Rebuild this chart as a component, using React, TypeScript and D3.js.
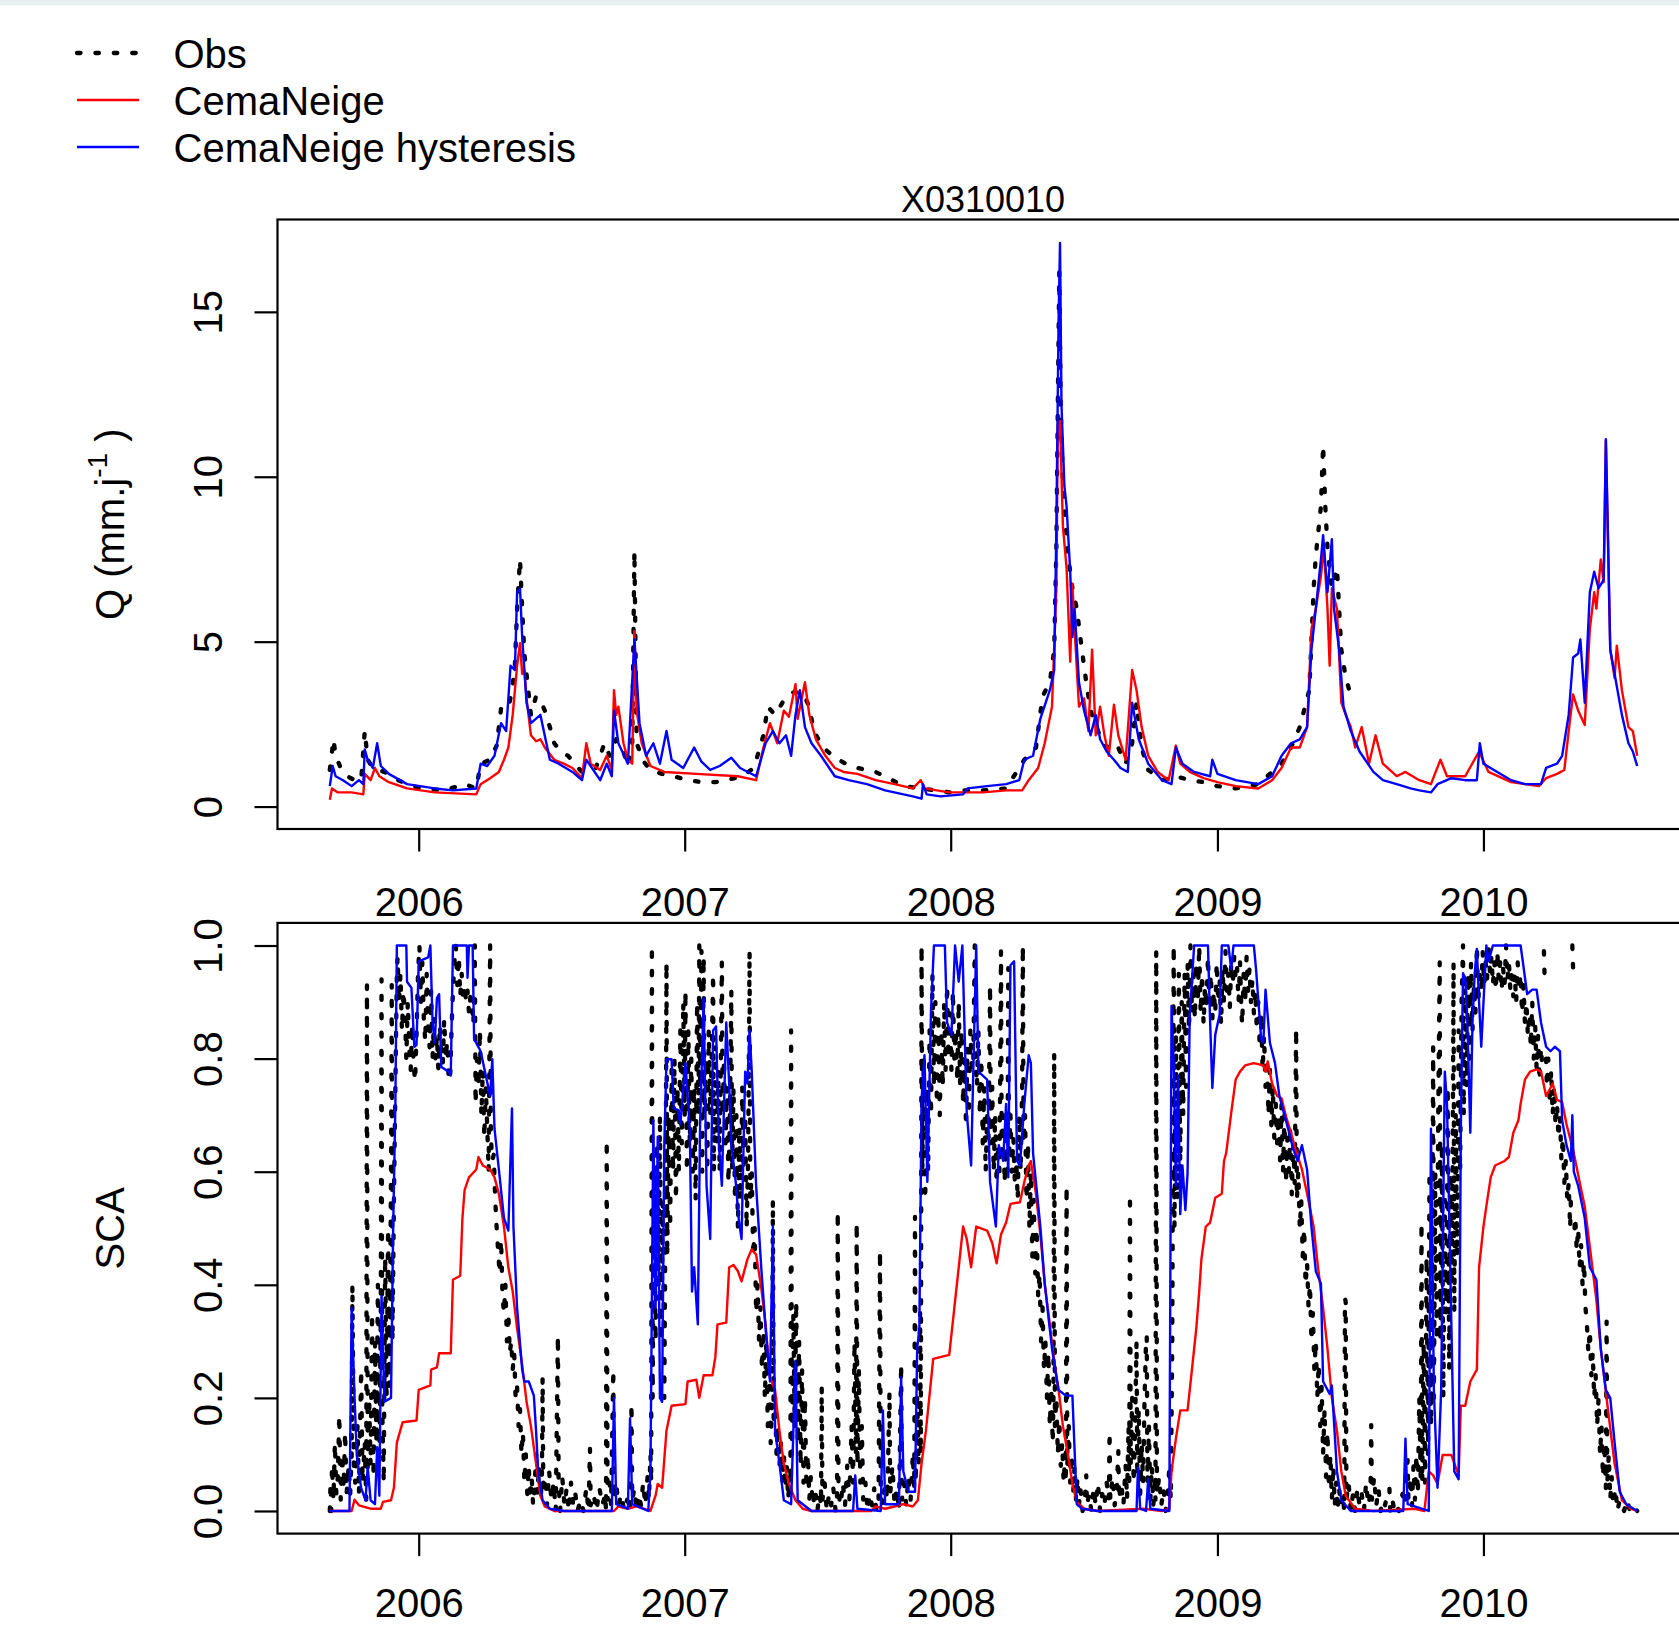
import React, { useEffect, useRef } from 'react';
import * as d3 from 'd3';

type Pt = [number, number | null];

// day offsets from 2005-09-01
const START = Date.UTC(2005, 8, 1);
const yearTicks = [2006, 2007, 2008, 2009, 2010];
const qTicks = [0, 5, 10, 15];
const scaTicks = [0, 0.2, 0.4, 0.6, 0.8, 1.0];
const stationName = 'X0310010';
const legendItems = [
  { label: 'Obs', color: '#000000', dotted: true },
  { label: 'CemaNeige', color: '#FF0000', dotted: false },
  { label: 'CemaNeige hysteresis', color: '#0000FF', dotted: false }
];

// discharge, mm/day
const qObs: Pt[] = [
  [0,1.11],[5,2.04],[8,1.54],[15,1.17],[24,0.92],[34,0.8],[43,0.8],[48,2.29],[52,1.42],[59,1.17],[68,1.11],[81,0.99],[94,0.8],[112,0.62],[131,0.55],[157,0.49],[185,0.68],[201,0.55],[207,1.3],[220,1.42],[229,1.85],[235,2.97],[245,2.97],[250,3.53],[254,4.27],[257,6.0],[261,7.49],[264,6.0],[267,4.64],[270,4.02],[276,2.78],[283,3.34],[289,3.22],[295,2.91],[302,2.41],[308,1.92],[317,1.67],[327,1.54],[336,1.3],[346,1.05],[365,1.17],[377,1.92],[384,1.54],[393,2.04],[403,1.67],[409,1.23],[415,1.92],[418,7.74],[421,1.92],[431,1.36],[440,1.11],[456,0.99],[472,0.92],[491,0.8],[510,0.74],[529,0.74],[544,0.8],[566,0.92],[582,1.17],[595,2.16],[601,3.03],[611,2.78],[623,3.22],[636,3.46],[649,3.46],[658,3.03],[664,2.29],[677,1.79],[693,1.48],[708,1.3],[724,1.17],[749,1.05],[772,0.8],[787,0.62],[812,0.55],[831,0.49],[850,0.43],[869,0.49],[896,0.49],[928,0.55],[953,1.42],[969,1.79],[978,3.34],[988,3.77],[994,4.76],[997,7.86],[999,12.2],[1001,16.2],[1003,12.0],[1006,9.72],[1013,7.61],[1019,6.62],[1025,6.0],[1032,4.76],[1038,3.77],[1044,2.91],[1054,2.29],[1066,1.79],[1079,1.92],[1092,1.3],[1101,1.92],[1107,3.15],[1114,1.79],[1123,1.11],[1142,0.8],[1161,0.92],[1180,0.8],[1199,0.74],[1218,0.62],[1243,0.55],[1274,0.68],[1306,1.3],[1319,1.79],[1331,2.41],[1344,3.53],[1347,5.01],[1350,6.62],[1353,7.61],[1360,9.1],[1363,10.96],[1366,9.1],[1369,7.86],[1375,6.62],[1382,7.24],[1385,6.0],[1388,4.76],[1394,3.9],[1399,3.53]
];

const qCema: Pt[] = [
  [0,0.21],[3,0.55],[11,0.43],[30,0.43],[46,0.37],[48,0.99],[56,0.8],[62,1.17],[68,0.92],[81,0.74],[106,0.55],[144,0.43],[201,0.37],[207,0.68],[220,0.86],[232,1.05],[239,1.42],[245,1.79],[251,2.78],[257,4.27],[261,4.95],[264,4.02],[267,4.14],[270,3.28],[276,2.16],[283,1.98],[289,2.04],[295,1.79],[308,1.42],[321,1.3],[333,1.17],[346,0.86],[352,1.92],[358,1.3],[371,1.11],[380,1.54],[387,1.11],[390,3.53],[393,2.78],[396,3.03],[403,1.92],[409,1.42],[415,1.3],[418,5.32],[421,2.91],[428,1.92],[440,1.23],[459,1.05],[503,0.99],[560,0.92],[585,0.8],[595,1.79],[604,2.53],[614,1.92],[623,2.91],[630,2.72],[639,3.71],[642,2.66],[652,3.77],[658,2.78],[667,2.04],[680,1.54],[693,1.17],[705,1.05],[724,0.99],[749,0.8],[775,0.68],[800,0.55],[811,0.8],[816,0.55],[850,0.43],[876,0.43],[896,0.43],[928,0.49],[950,0.49],[959,0.8],[972,1.17],[981,1.92],[991,3.03],[997,6.62],[999,11.58],[1002,11.7],[1006,8.48],[1011,7.24],[1016,4.39],[1019,6.75],[1022,5.38],[1028,3.03],[1035,3.28],[1041,2.29],[1046,4.76],[1051,2.16],[1057,3.03],[1063,2.16],[1069,1.54],[1076,3.09],[1082,2.16],[1092,1.42],[1101,4.14],[1107,3.53],[1114,2.41],[1123,1.54],[1136,1.05],[1151,0.8],[1161,1.85],[1167,1.3],[1180,1.05],[1199,0.86],[1218,0.74],[1243,0.62],[1274,0.55],[1293,0.8],[1306,1.17],[1319,1.79],[1331,1.79],[1341,2.41],[1347,5.38],[1353,6.0],[1360,6.99],[1364,7.86],[1369,6.0],[1372,4.27],[1375,6.62],[1382,6.0],[1388,3.15],[1394,2.78],[1401,2.41],[1407,1.79],[1416,2.41],[1426,1.3],[1435,2.16],[1445,1.3],[1464,0.92],[1476,1.05],[1495,0.8],[1511,0.68],[1524,1.42],[1533,0.92],[1546,0.92],[1558,0.92],[1577,1.67],[1590,1.05],[1621,0.74],[1640,0.68],[1659,0.62],[1669,0.86],[1684,0.99],[1694,1.11],[1700,2.29],[1706,3.4],[1713,2.91],[1722,2.47],[1729,5.38],[1735,6.5],[1738,6.0],[1744,7.49],[1748,6.8],[1751,11.1],[1754,7.86],[1757,4.76],[1763,3.9],[1766,4.88],[1773,3.53],[1782,2.41],[1788,2.29],[1794,1.54]
];

const qCemaHyst: Pt[] = [
  [0,0.62],[4,1.23],[8,0.92],[18,0.8],[30,0.62],[40,0.8],[46,0.68],[48,1.73],[52,1.42],[59,1.17],[65,1.92],[70,1.23],[81,0.99],[106,0.68],[144,0.55],[169,0.49],[201,0.55],[207,1.3],[216,1.23],[226,1.54],[235,2.53],[242,2.29],[248,4.27],[254,4.14],[257,6.5],[261,6.62],[264,5.14],[270,3.15],[276,2.53],[289,2.78],[302,1.42],[314,1.3],[333,1.05],[346,0.8],[352,1.42],[371,0.8],[380,1.3],[387,0.92],[390,2.91],[396,1.92],[409,1.3],[418,5.07],[425,2.53],[434,1.54],[444,1.92],[453,1.3],[462,2.29],[469,1.42],[485,1.17],[500,1.79],[510,1.36],[522,1.11],[535,1.23],[551,1.48],[563,1.17],[585,0.92],[598,1.92],[608,2.29],[617,1.92],[626,2.16],[633,1.54],[639,2.78],[645,3.53],[652,2.41],[661,1.92],[674,1.54],[693,0.92],[712,0.8],[737,0.68],[762,0.49],[800,0.31],[812,0.24],[814,0.68],[819,0.37],[838,0.31],[869,0.37],[875,0.55],[902,0.62],[928,0.68],[946,0.8],[953,1.42],[965,1.54],[975,2.66],[988,3.53],[994,4.14],[997,8.48],[1000,14.67],[1002,17.09],[1004,12.19],[1008,9.72],[1011,9.1],[1016,7.12],[1019,5.14],[1022,6.0],[1028,3.77],[1035,2.91],[1044,2.16],[1051,2.78],[1057,2.04],[1066,1.67],[1076,1.42],[1085,1.17],[1095,1.05],[1101,3.15],[1110,2.04],[1123,1.3],[1142,0.8],[1155,0.68],[1161,1.79],[1170,1.3],[1186,1.05],[1208,0.92],[1211,1.42],[1218,0.99],[1243,0.8],[1274,0.68],[1293,0.92],[1306,1.54],[1319,1.92],[1331,2.04],[1341,2.41],[1347,4.76],[1353,6.0],[1360,7.49],[1363,8.23],[1369,6.5],[1375,8.11],[1378,6.0],[1385,4.76],[1391,3.03],[1401,2.29],[1413,1.67],[1432,1.05],[1445,0.8],[1464,0.68],[1483,0.55],[1495,0.49],[1511,0.43],[1520,0.68],[1539,0.86],[1558,0.8],[1574,0.8],[1578,1.92],[1583,1.3],[1602,1.05],[1621,0.8],[1640,0.68],[1662,0.68],[1669,1.17],[1684,1.3],[1691,1.54],[1700,2.78],[1706,4.52],[1713,4.64],[1716,5.07],[1722,3.15],[1729,6.5],[1735,7.12],[1741,6.62],[1748,6.87],[1751,11.14],[1754,8.11],[1757,4.76],[1763,4.02],[1773,2.78],[1782,1.92],[1788,1.67],[1794,1.23]
];

// snow cover area fraction
const scaObs: Pt[] = [
  [0,0],[1,0.05],[2,0],[3,0.08],[5,0.02],[7,0.12],[9,0.03],[11,0.06],[13,0.17],[15,0.02],[17,0.1],[19,0.04],[21,0.14],[23,0.03],[26,0.08],[28,0.03],[30,0.1],[31,0.4],[33,0.08],[35,0.05],[38,0.15],[40,0.03],[43,0.25],[45,0.05],[48,0.12],[50,0.02],[51,0.93],[52,0.05],[54,0.2],[56,0.08],[58,0.35],[60,0.06],[62,0.3],[64,0.12],[66,0.4],[68,0.1],[70,0.35],[71,0.94],[72,0.18],[74,0.05],[76,0.45],[78,0.2],[80,0.5],[82,0.22],[84,0.6],[85,0.93],[86,0.3],[88,0.55],[90,0.75],[92,0.95],[93,0.98],[95,0.9],[97,0.95],[99,0.85],[101,0.92],[103,0.88],[105,0.8],[107,0.9],[109,0.82],[111,0.78],[113,0.86],[115,0.79],[117,0.76],[119,0.84],[121,0.95],[123,1],[125,0.9],[127,0.97],[129,0.87],[131,0.83],[133,0.95],[135,0.85],[137,0.82],[139,0.92],[141,0.8],[143,0.87],[145,0.8],[147,0.84],[149,0.78],[151,0.86],[153,0.82],[155,0.79],[157,0.87],[159,0.8],[161,0.83],[163,0.77],[165,0.76],[167,0.85],[169,0.92],[171,0.97],[173,1],[175,0.93],[177,0.98],[179,0.91],[181,0.95],[183,0.9],[185,0.93],[187,0.9],[189,0.92],[191,0.88],[193,0.91],[195,0.9],[197,0.86],[199,1],[200,0.72],[202,0.8],[204,0.75],[206,0.85],[208,0.7],[210,0.78],[212,0.66],[214,0.75],[216,0.68],[218,0.6],[220,1],[221,0.66],[223,0.62],[225,0.63],[227,0.55],[229,0.5],[231,0.46],[233,0.42],[235,0.48],[237,0.38],[239,0.35],[241,0.4],[243,0.3],[245,0.35],[247,0.28],[249,0.3],[251,0.25],[253,0.28],[255,0.2],[257,0.22],[259,0.15],[261,0.18],[263,0.1],[265,0.14],[267,0.05],[269,0.1],[271,0.03],[273,0.08],[275,0.02],[277,0.06],[279,0.01],
  [281,0.04],[283,0.1],[285,0.03],[287,0.08],[289,0.02],[291,0.05],[292,0.236],[293,0.03],[296,0.06],[298,0.01],[301,0.07],[304,0.02],[307,0.05],[310,0],[313,0.31],[314,0.05],[316,0],[319,0.06],[322,0.01],[325,0.04],[328,0],[331,0.05],[334,0.01],[337,0.03],[340,0],[344,0.02],[348,0],[352,0.04],[355,0],[357,0.11],[358,0.01],[362,0.03],[366,0],[370,0.04],[374,0.01],[378,0.03],[379,0],[380,0.656],[381,0.02],[384,0.05],[386,0.01],[389,0.25],[390,0.02],[393,0.05],[396,0.01],[400,0.03],[404,0],[408,0.02],[412,0],[414,0.19],[415,0.02],[418,0.04],[421,0],[424,0.03],[427,0.01],[430,0.05],[433,0.01],[436,0.06],[438,0.02],[440,0.1],[441,0.05],[442,1],
  [443,0.2],[445,0.6],[447,0.3],[449,0.65],[451,0.4],[453,0.7],[455,0.3],[457,0.55],[459,0.2],[461,0.6],[462,0.97],[463,0.45],[465,0.7],[467,0.5],[469,0.78],[471,0.6],[473,0.8],[475,0.55],[477,0.75],[479,0.6],[481,0.85],[483,0.65],[485,0.9],[487,0.7],[488,0.92],[490,0.6],[492,0.85],[494,0.65],[496,0.8],[498,0.6],[500,0.75],[502,0.55],[504,0.9],[506,0.7],[507,1],[508,0.75],[510,0.99],[511,0.6],[513,0.98],[514,0.7],[516,0.8],[518,0.6],[520,0.85],[522,0.7],[524,0.8],[526,0.95],[527,0.6],[529,0.82],[531,0.65],[533,0.78],[535,0.6],[537,0.85],[538,0.97],[539,0.7],[541,0.8],[543,0.65],[545,0.75],[547,0.58],[549,0.7],[551,0.92],[552,0.6],[554,0.75],[556,0.55],[558,0.7],[560,0.5],[562,0.68],[564,0.55],[566,0.75],[568,0.6],[570,0.7],[572,0.5],[574,0.62],[576,0.99],[577,0.55],[579,0.6],[581,0.45],[583,0.5],[585,0.35],[587,0.4],[589,0.3],[591,0.36],[593,0.25],[595,0.32],[597,0.2],[599,0.3],[601,0.15],[603,0.25],[605,0.12],[607,0.2],[608,0.55],[609,0.15],[611,0.2],[613,0.1],[615,0.15],[617,0.08],[619,0.12],[621,0.05],[623,0.1],[625,0.04],[627,0.08],[629,0.02],[631,0.06],[632,0.03],[633,0.85],
  [634,0.1],[636,0.35],[638,0.15],[640,0.37],[642,0.12],[644,0.3],[646,0.08],[648,0.25],[650,0.05],[652,0.2],[654,0.04],[656,0.1],[658,0.02],[660,0.06],[663,0.01],[666,0.04],[669,0],[672,0.03],[674,0.01],[675,0.22],[676,0.02],[679,0.05],[682,0],[685,0.03],[688,0.01],[691,0.04],[694,0],[696,0.02],[697,0.53],[698,0.03],[701,0.01],[704,0.05],[707,0.01],[710,0.08],[713,0.02],[716,0.15],[718,0.05],[720,0.3],[722,0.1],[723,0.51],[724,0.08],[726,0.25],[728,0.05],[730,0.15],[732,0.02],[735,0.05],[738,0],[741,0.03],[744,0.01],[747,0.04],[750,0],[753,0.02],[755,0.46],[756,0.03],[759,0.01],[762,0.05],[765,0.02],[768,0.21],[769,0.03],[772,0.08],[775,0.01],[778,0.04],[781,0],[784,0.26],[785,0.02],[788,0.05],[791,0.01],[794,0.06],[797,0.02],[800,0.1],[802,0.04],[803,0.52],[804,0.05],[806,0.2],[808,0.08],[810,0.35],[811,0.1],[812,1],
  [813,0.6],[815,0.8],[817,0.55],[819,0.75],[821,0.6],[823,0.85],[825,0.7],[827,0.95],[829,0.75],[831,0.9],[833,0.72],[835,0.88],[837,0.7],[839,0.85],[841,0.75],[843,0.9],[845,0.78],[847,0.93],[849,0.8],[851,0.88],[853,0.78],[855,0.92],[857,0.8],[859,0.85],[861,0.76],[863,0.9],[865,0.75],[867,0.85],[869,0.72],[871,0.8],[873,0.68],[875,0.82],[877,0.7],[879,0.85],[881,0.78],[883,0.8],[885,1],[886,0.8],[888,0.75],[890,0.85],[892,0.7],[894,0.8],[896,0.65],[898,0.75],[900,0.6],[902,0.7],[904,0.66],[906,0.93],[907,0.65],[909,0.75],[911,0.6],[913,0.7],[915,0.58],[917,0.65],[919,0.6],[921,0.99],[922,0.62],[924,0.7],[926,0.58],[928,0.66],[930,0.6],[931,0.96],[932,0.62],[934,0.7],[936,0.6],[938,0.66],[940,0.58],[942,0.62],[944,0.55],[946,0.7],[948,0.6],[950,0.75],[951,1],[952,0.65],[954,0.7],[956,0.55],[958,0.65],[960,0.5],[962,0.6],[964,0.45],[966,0.55],[968,0.42],[970,0.5],[972,0.38],[974,0.42],[976,0.3],[978,0.36],[980,0.25],[982,0.3],[984,0.2],[986,0.28],[988,0.15],[990,0.22],[992,0.12],[993,0.2],[994,0.81],[995,0.15],[997,0.2],[999,0.1],[1001,0.16],[1003,0.08],[1005,0.12],[1007,0.05],[1009,0.1],[1010,0.05],[1011,0.575],[1012,0.08],[1014,0.15],[1016,0.05],[1018,0.1],[1020,0.03],[1022,0.08],[1024,0.02],[1026,0.06],[1028,0.01],
  [1030,0.04],[1033,0],[1036,0.02],[1038,0.063],[1039,0.01],[1042,0.03],[1045,0],[1048,0.04],[1051,0.01],[1054,0.05],[1057,0],[1060,0.03],[1063,0.01],[1066,0.05],[1069,0.02],[1070,0.14],[1071,0.02],[1074,0.06],[1077,0.01],[1080,0.04],[1082,0.106],[1083,0.02],[1086,0.05],[1089,0.01],[1092,0.08],[1094,0.02],[1096,0.15],[1097,0.05],[1098,0.56],[1099,0.08],[1101,0.2],[1103,0.05],[1105,0.15],[1107,0.3],[1108,0.06],[1110,0.18],[1112,0.03],[1114,0.12],[1116,0.05],[1118,0.2],[1120,0.3],[1121,0.31],[1122,0.05],[1124,0.15],[1126,0.02],[1128,0.08],[1130,0.01],[1132,0.05],[1133,0.02],[1134,0.99],[1135,0.03],[1138,0.06],[1141,0.01],[1144,0.04],[1147,0],[1150,0.03],[1152,0.08],[1154,0.02],[1156,0.3],[1158,1],
  [1159,0.5],[1161,0.85],[1163,0.55],[1165,0.95],[1167,0.6],[1169,0.9],[1171,0.7],[1173,0.95],[1175,0.75],[1177,0.97],[1179,0.85],[1181,1],[1183,0.88],[1185,0.95],[1187,0.87],[1189,0.97],[1191,0.9],[1193,1],[1195,0.88],[1197,0.95],[1199,0.86],[1201,0.93],[1203,0.89],[1205,0.98],[1207,0.9],[1209,0.95],[1211,0.87],[1213,0.92],[1215,0.88],[1217,0.97],[1219,0.9],[1221,0.94],[1223,0.86],[1225,0.96],[1227,0.9],[1229,0.99],[1231,0.92],[1233,0.95],[1235,0.89],[1237,0.97],[1239,0.93],[1241,0.98],[1243,0.94],[1245,0.96],[1247,0.9],[1249,0.97],[1251,0.88],[1252,0.86],[1254,0.95],[1256,0.9],[1258,0.98],[1260,0.92],[1262,0.96],[1264,0.9],[1266,0.94],[1268,0.88],[1270,0.92],[1272,0.85],[1274,0.9],[1276,0.82],[1278,0.88],[1280,0.78],[1282,0.84],[1284,0.75],[1286,0.8],[1288,0.7],[1290,0.78],[1292,0.68],[1294,0.75],[1296,0.66],[1298,0.72],[1300,0.65],[1302,0.7],[1304,0.62],[1306,0.72],[1308,0.6],[1310,0.7],[1312,0.58],[1314,0.66],[1316,0.6],[1318,0.68],[1320,0.56],[1322,0.65],[1324,0.58],[1326,0.853],[1327,0.55],[1329,0.6],[1331,0.5],[1333,0.55],[1335,0.45],[1337,0.5],[1339,0.4],[1341,0.44],[1343,0.36],[1345,0.4],[1347,0.3],[1349,0.35],[1351,0.25],[1353,0.3],[1355,0.2],[1357,0.26],[1359,0.15],[1361,0.22],[1363,0.1],[1365,0.18],[1367,0.06],[1369,0.14],[1371,0.04],[1373,0.1],[1375,0.02],[1377,0.08],[1379,0.01],[1381,0.05],[1383,0],[1385,0.04],[1387,0.01],[1390,0.03],[1392,0],[1393,0.376],[1394,0.37],[1395,0.02],[1398,0.05],[1401,0],
  [1404,0.03],[1407,0],[1410,0.04],[1413,0.01],[1416,0.03],[1419,0],[1422,0.05],[1425,0.01],[1428,0.03],[1429,0.152],[1430,0.02],[1433,0.06],[1436,0.01],[1439,0.04],[1442,0],[1445,0.02],[1448,0.01],[1451,0.03],[1454,0.04],[1455,0],[1458,0.02],[1461,0],[1464,0.01],[1467,0],[1470,0.02],[1472,0.03],[1475,0.01],[1477,0.06],[1479,0.09],[1480,0.02],[1483,0.06],[1485,0.01],[1487,0.08],[1489,0.02],[1491,0.1],[1493,0.03],[1495,0.2],[1497,0.05],[1498,0.51],
  [1499,0.05],[1501,0.3],[1503,0.05],[1505,0.45],[1507,0.1],[1509,0.6],[1511,0.15],[1513,0.5],[1514,0.82],[1515,0.2],[1517,0.6],[1519,0.3],[1521,0.7],[1523,0.97],[1524,0.3],[1526,0.65],[1528,0.2],[1530,0.55],[1532,0.35],[1534,0.75],[1536,0.25],[1538,0.6],[1540,0.4],[1542,0.97],[1543,0.35],[1545,0.7],[1547,0.45],[1549,0.85],[1551,0.6],[1553,0.9],[1555,1],[1556,0.7],[1558,0.92],[1560,0.75],[1562,0.95],[1564,0.8],[1566,0.97],[1568,0.85],[1570,0.93],[1572,0.88],[1574,1],[1576,0.9],[1578,0.96],[1580,0.92],[1582,0.99],[1584,0.93],[1586,0.97],[1588,0.94],[1590,1],[1592,0.95],[1594,0.98],[1596,0.93],[1598,0.97],[1600,0.92],[1602,0.99],[1604,0.94],[1606,0.97],[1608,0.92],[1610,0.96],[1612,0.93],[1614,1],[1616,0.94],[1618,0.97],[1620,0.92],[1622,0.96],[1624,0.91],[1626,0.95],[1628,0.9],[1630,0.97],[1632,0.92],[1634,0.95],[1636,0.88],[1638,0.93],[1640,0.86],[1642,0.9],[1644,0.84],[1646,0.88],[1648,0.82],[1650,0.9],[1652,0.8],[1654,0.86],[1656,0.78],[1658,0.84],[1660,0.76],[1662,0.82],[1664,0.78],[1665,null],[1666,0.99],[1667,0.94],[1668,null],[1669,0.8],[1670,0.75],[1672,0.8],[1674,0.72],[1676,0.78],[1678,0.7],[1680,0.75],[1682,0.68],[1684,0.72],[1686,0.66],[1688,0.7],[1690,0.62],[1692,0.66],[1694,0.58],[1696,0.62],[1698,0.55],[1700,0.58],[1702,0.5],[1703,0.55],[1704,null],[1705,1],[1706,0.96],[1707,null],[1708,0.5],[1709,0.52],[1711,0.46],[1713,0.5],[1715,0.43],[1717,0.47],[1719,0.4],[1721,0.44],[1723,0.36],[1725,0.33],[1727,0.28],[1729,0.32],[1731,0.24],[1733,0.28],[1735,0.2],[1737,0.24],[1739,0.15],[1741,0.2],[1743,0.1],[1745,0.15],[1747,0.06],[1749,0.12],[1751,0.04],[1752,0.335],[1753,0.05],[1755,0.1],[1757,0.02],[1759,0.06],[1761,0.01],[1764,0.04],[1767,0],[1770,0.02],[1773,0.01],[1776,0],[1780,0.02],[1784,0],[1788,0.01],[1794,0]
];

const scaCema: Pt[] = [
  [0,0],[30,0],[34,0.02],[40,0.01],[56,0.004],[70,0.004],[73,0.016],[84,0.019],[88,0.041],[92,0.121],[100,0.157],[119,0.16],[122,0.214],[138,0.222],[139,0.25],[147,0.254],[150,0.279],[166,0.279],[169,0.409],[179,0.416],[182,0.518],[185,0.568],[191,0.59],[201,0.604],[204,0.626],[210,0.611],[220,0.604],[226,0.59],[232,0.561],[239,0.503],[245,0.431],[251,0.388],[257,0.323],[264,0.258],[270,0.193],[276,0.15],[283,0.084],[289,0.027],[295,0.008],[308,0],[390,0],[396,0.008],[409,0.004],[421,0.008],[440,0],[447,0.027],[450,0.048],[456,0.041],[462,0.142],[469,0.186],[488,0.189],[491,0.229],[503,0.232],[507,0.2],[513,0.24],[525,0.24],[529,0.272],[532,0.33],[544,0.333],[548,0.431],[554,0.435],[560,0.424],[565,0.406],[573,0.445],[579,0.463],[585,0.453],[592,0.395],[598,0.33],[604,0.236],[611,0.214],[617,0.142],[623,0.084],[630,0.048],[639,0.019],[649,0.004],[661,0],[743,0],[749,0.008],[762,0.004],[775,0.008],[787,0.012],[800,0.008],[807,0.019],[812,0.084],[818,0.142],[828,0.269],[850,0.276],[857,0.359],[863,0.431],[869,0.503],[874,0.481],[880,0.431],[887,0.503],[902,0.496],[909,0.474],[915,0.438],[921,0.489],[928,0.51],[934,0.543],[947,0.546],[953,0.582],[959,0.611],[962,0.619],[969,0.561],[975,0.489],[981,0.402],[988,0.33],[994,0.265],[1000,0.214],[1006,0.15],[1013,0.099],[1019,0.048],[1025,0.016],[1035,0.004],[1054,0],[1117,0.004],[1142,0],[1152,0.004],[1155,0.07],[1161,0.128],[1167,0.178],[1177,0.178],[1183,0.25],[1189,0.323],[1193,0.388],[1196,0.445],[1202,0.503],[1208,0.51],[1215,0.554],[1224,0.561],[1227,0.619],[1230,0.633],[1237,0.705],[1243,0.763],[1249,0.777],[1256,0.788],[1268,0.792],[1281,0.788],[1284,0.777],[1287,0.795],[1293,0.756],[1300,0.734],[1306,0.73],[1312,0.698],[1319,0.669],[1325,0.64],[1334,0.604],[1341,0.561],[1350,0.503],[1356,0.431],[1363,0.359],[1369,0.287],[1375,0.2],[1382,0.142],[1388,0.07],[1394,0.027],[1407,0.004],[1432,0],[1489,0.004],[1502,0],[1508,0.07],[1514,0.063],[1520,0.048],[1527,0.099],[1539,0.099],[1549,0.063],[1552,0.186],[1558,0.186],[1565,0.229],[1574,0.25],[1577,0.431],[1583,0.503],[1587,0.539],[1593,0.59],[1599,0.611],[1612,0.619],[1618,0.626],[1624,0.669],[1631,0.691],[1634,0.72],[1640,0.763],[1647,0.777],[1656,0.781],[1662,0.777],[1669,0.734],[1675,0.748],[1678,0.756],[1684,0.727],[1691,0.723],[1697,0.684],[1707,0.633],[1716,0.575],[1722,0.539],[1729,0.467],[1738,0.373],[1744,0.287],[1754,0.178],[1763,0.084],[1773,0.019],[1785,0.004],[1794,0]
];

const scaCemaHyst: Pt[] = [
  [0,0],[27,0],[30,0.359],[34,0.2],[37,0.099],[43,0.041],[49,0.019],[52,0.077],[56,0.019],[62,0.012],[65,0.113],[68,0.027],[71,0.38],[75,0.193],[84,0.2],[87,0.503],[90,0.72],[92,1],[105,1],[106,0.936],[112,0.925],[116,0.821],[119,0.824],[122,0.972],[135,0.979],[138,1],[141,0.864],[144,0.828],[147,0.907],[150,0.914],[153,0.785],[163,0.777],[166,0.77],[169,1],[188,1],[189,0.943],[191,1],[196,1],[198,0.835],[207,0.813],[220,0.734],[223,0.799],[226,0.676],[232,0.604],[239,0.518],[245,0.496],[250,0.712],[252,0.503],[257,0.359],[264,0.25],[267,0.229],[273,0.229],[280,0.204],[283,0.142],[286,0.07],[292,0.019],[302,0.004],[321,0],[387,0],[390,0.2],[393,0.012],[409,0.004],[412,0.164],[415,0.012],[437,0],[440,0.07],[444,0.691],[447,0.359],[450,0.662],[453,0.2],[456,0.193],[459,0.647],[462,0.799],[469,0.799],[472,0.712],[478,0.709],[481,0.684],[488,0.792],[494,0.676],[497,0.388],[500,0.431],[505,0.33],[508,0.676],[513,0.907],[517,0.575],[522,0.481],[526,0.85],[530,0.857],[534,0.647],[538,0.575],[544,0.864],[548,0.756],[551,0.647],[557,0.582],[561,0.518],[565,0.481],[570,0.777],[573,0.756],[576,0.85],[579,0.777],[585,0.575],[592,0.431],[598,0.323],[604,0.229],[608,0.503],[611,0.142],[617,0.084],[623,0.019],[633,0.012],[639,0.265],[642,0.019],[661,0],[718,0],[721,0.063],[724,0.004],[756,0],[759,0.178],[762,0.012],[781,0.012],[784,0.236],[787,0.07],[794,0.034],[803,0.034],[806,0.287],[809,0.323],[812,0.727],[816,0.806],[820,0.582],[825,0.886],[829,1],[844,1],[847,0.864],[853,0.842],[858,1],[863,0.936],[868,1],[874,0.705],[880,0.611],[887,1],[890,0.777],[902,0.763],[906,0.582],[914,0.503],[918,0.647],[924,0.619],[928,0.72],[931,0.59],[934,0.965],[939,0.972],[943,0.619],[947,0.611],[953,0.72],[959,0.806],[962,0.792],[965,0.633],[975,0.503],[981,0.402],[991,0.287],[1000,0.214],[1010,0.204],[1019,0.204],[1025,0.012],[1032,0.004],[1054,0],[1107,0],[1109,0.077],[1112,0.004],[1120,0],[1123,0.056],[1126,0.004],[1152,0],[1155,0.893],[1158,0.792],[1161,0.575],[1164,0.77],[1167,0.525],[1170,0.611],[1174,0.532],[1177,0.597],[1180,0.878],[1183,0.936],[1186,1],[1205,1],[1208,0.864],[1211,0.748],[1215,0.842],[1221,0.878],[1224,1],[1233,1],[1237,0.958],[1240,1],[1268,1],[1271,0.958],[1278,0.835],[1281,0.828],[1284,0.922],[1290,0.828],[1297,0.792],[1303,0.734],[1309,0.705],[1315,0.676],[1322,0.64],[1328,0.619],[1334,0.647],[1341,0.604],[1347,0.503],[1353,0.424],[1360,0.402],[1363,0.229],[1372,0.207],[1375,0.222],[1382,0.07],[1388,0.019],[1401,0],[1473,0],[1476,0.128],[1479,0.012],[1508,0],[1511,0.676],[1515,0.214],[1520,0.041],[1525,0.214],[1530,0.777],[1533,0.72],[1543,0.07],[1549,0.056],[1552,0.676],[1555,0.951],[1558,0.943],[1561,0.864],[1565,0.669],[1568,0.864],[1571,0.951],[1574,0.994],[1577,0.9],[1580,0.821],[1587,1],[1590,0.972],[1596,1],[1634,1],[1637,0.972],[1643,0.914],[1650,0.922],[1656,0.922],[1662,0.864],[1669,0.821],[1675,0.813],[1681,0.821],[1688,0.813],[1691,0.691],[1697,0.647],[1703,0.619],[1705,0.7],[1707,0.6],[1713,0.575],[1722,0.518],[1729,0.431],[1738,0.409],[1744,0.287],[1751,0.214],[1757,0.2],[1763,0.121],[1770,0.034],[1779,0.012],[1794,0]
];

const W = 1679;
const H = 1625;
const FONT = "'Liberation Sans', Arial, Helvetica, sans-serif";
const OBS_DASH = '3.5 14.9';

const App: React.FC = () => {
  const svgRef = useRef<SVGSVGElement>(null);

  useEffect(() => {
    if (!svgRef.current) return;
    const svg = d3.select(svgRef.current);
    svg.selectAll('*').remove();

    const toDate = (d: number) => new Date(START + d * 86400000);

    // top band of the page
    svg.append('rect').attr('x', 0).attr('y', 0).attr('width', W).attr('height', 5.5).attr('fill', '#e6eff2');

    // x scale, R style 4% padding
    const days = scaObs.map(p => p[0]);
    const [d0, d1] = d3.extent(days) as [number, number];
    const pad = (d1 - d0) * 0.04;
    const left = 277.5;
    const right = 1689.5;
    const x = d3.scaleUtc().domain([toDate(d0 - pad), toDate(d1 + pad)]).range([left, right]);
    const yearDates = yearTicks.map(y => new Date(Date.UTC(y, 0, 1)));

    const panels = [
      {
        top: 219.5, bottom: 829, domain: [-0.68, 17.8], ticks: qTicks, fmt: d3.format('d'), labelPad: 36,
        series: [
          { data: qObs, color: '#000', dotted: true },
          { data: qCema, color: '#FF0000', dotted: false },
          { data: qCemaHyst, color: '#0000FF', dotted: false }
        ]
      },
      {
        top: 922.9, bottom: 1533.6, domain: [-0.04, 1.04], ticks: scaTicks, fmt: d3.format('.1f'), labelPad: 33,
        series: [
          { data: scaObs, color: '#000', dotted: true },
          { data: scaCema, color: '#FF0000', dotted: false },
          { data: scaCemaHyst, color: '#0000FF', dotted: false }
        ]
      }
    ];

    panels.forEach(p => {
      const y = d3.scaleLinear().domain(p.domain).range([p.bottom, p.top]);

      const line = d3.line<Pt>()
        .defined(d => d[1] !== null)
        .x(d => x(toDate(d[0])))
        .y(d => y(d[1] as number));

      p.series.forEach(s => {
        svg.append('path')
          .datum(s.data)
          .attr('d', line)
          .attr('fill', 'none')
          .attr('stroke', s.color)
          .attr('stroke-width', s.dotted ? 4.3 : 2.4)
          .attr('stroke-linecap', s.dotted ? 'round' : 'butt')
          .attr('stroke-linejoin', 'round')
          .attr('stroke-dasharray', s.dotted ? OBS_DASH : null);
      });

      // box
      svg.append('rect')
        .attr('x', left).attr('y', p.top)
        .attr('width', right - left).attr('height', p.bottom - p.top)
        .attr('fill', 'none').attr('stroke', '#000').attr('stroke-width', 2.2);

      // x axis
      svg.append('g')
        .attr('transform', `translate(0,${p.bottom})`)
        .call(d3.axisBottom(x).tickValues(yearDates).tickSize(22.5).tickPadding(p.labelPad)
          .tickFormat(d => d3.utcFormat('%Y')(d as Date)))
        .call(g => g.select('.domain').remove())
        .call(g => g.selectAll('line').attr('stroke', '#000').attr('stroke-width', 2.2))
        .call(g => g.selectAll('text').attr('fill', '#000'))
        .attr('font-family', FONT).attr('font-size', 40);

      // y axis, labels parallel to the axis
      svg.append('g')
        .attr('transform', `translate(${left},0)`)
        .call(d3.axisLeft(y).tickValues(p.ticks).tickSize(23).tickFormat(d => p.fmt(d as number)))
        .call(g => g.select('.domain').remove())
        .call(g => g.selectAll('line').attr('stroke', '#000').attr('stroke-width', 2.2))
        .call(g => g.selectAll('text')
          .attr('fill', '#000')
          .attr('x', 0).attr('y', -56).attr('dy', 0)
          .attr('text-anchor', 'middle')
          .attr('transform', 'rotate(-90)'))
        .attr('font-family', FONT).attr('font-size', 40);
    });

    // y labels
    const mid1 = (219.5 + 829) / 2;
    const mid2 = (922.9 + 1533.6) / 2;
    const ql = svg.append('text')
      .attr('transform', `translate(124,${mid1}) rotate(-90)`)
      .attr('text-anchor', 'middle')
      .attr('font-family', FONT).attr('font-size', 40)
      .style('white-space', 'pre');
    ql.append('tspan').text('Q (mm.j');
    ql.append('tspan').attr('font-size', 28).attr('dy', -17).text('-1');
    ql.append('tspan').attr('dy', 17).text(' )');

    svg.append('text')
      .attr('transform', `translate(124,${mid2}) rotate(-90)`)
      .attr('text-anchor', 'middle')
      .attr('font-family', FONT).attr('font-size', 40)
      .text('SCA');

    // title
    svg.append('text')
      .attr('x', 983).attr('y', 212)
      .attr('text-anchor', 'middle')
      .attr('font-family', FONT).attr('font-size', 36)
      .text(stationName);

    // legend
    const legend = svg.append('g').attr('transform', 'translate(77,53)');
    legendItems.forEach((d, i) => {
      const row = legend.append('g').attr('transform', `translate(0,${i * 47})`);
      row.append('line')
        .attr('x1', 0).attr('x2', 62).attr('y1', 0).attr('y2', 0)
        .attr('stroke', d.color)
        .attr('stroke-width', d.dotted ? 4.3 : 2.4)
        .attr('stroke-linecap', d.dotted ? 'round' : 'butt')
        .attr('stroke-dasharray', d.dotted ? OBS_DASH : null);
      row.append('text')
        .attr('x', 96.5).attr('y', 15)
        .attr('font-family', FONT).attr('font-size', 40)
        .text(d.label);
    });
  }, []);

  return (
    <svg
      ref={svgRef}
      width={W}
      height={H}
      style={{ position: 'absolute', left: 0, top: 0, background: '#ffffff' }}
    />
  );
};

export default App;
